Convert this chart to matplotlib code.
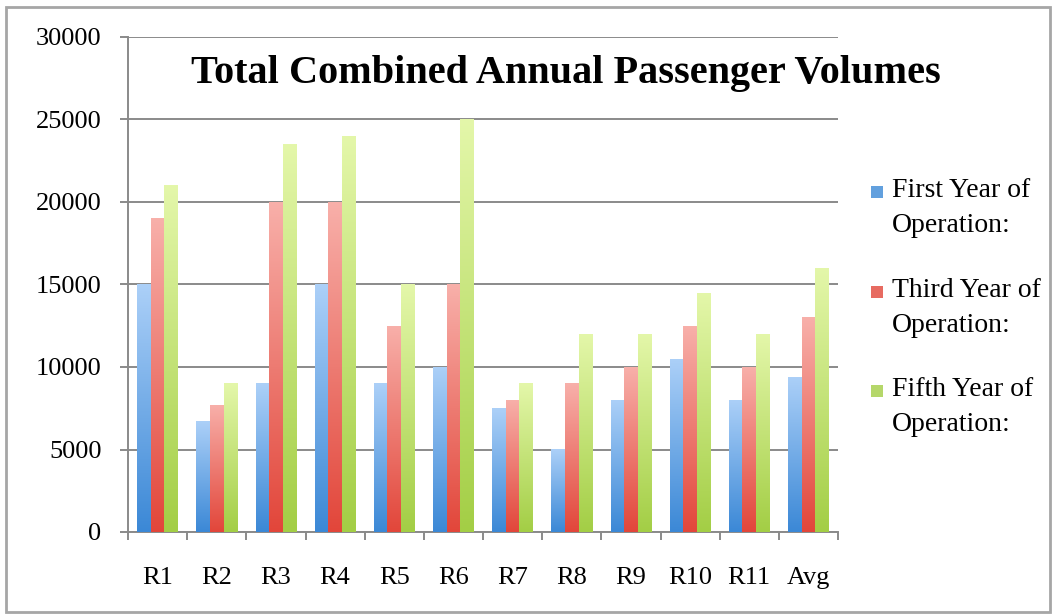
import numpy as np
import matplotlib
matplotlib.use("Agg")
import matplotlib.pyplot as plt
from matplotlib.patches import Rectangle
from matplotlib.colors import LinearSegmentedColormap

# data
routes = ["R1", "R2", "R3", "R4", "R5", "R6", "R7", "R8", "R9", "R10", "R11", "Avg"]
first_year = [15000, 6700, 9000, 15000, 9000, 10000, 7500, 5000, 8000, 10500, 8000, 9400]
third_year = [19000, 7700, 20000, 20000, 12500, 15000, 8000, 9000, 10000, 12500, 10000, 13000]
fifth_year = [21000, 9000, 23500, 24000, 15000, 25000, 9000, 12000, 12000, 14500, 12000, 16000]
series_labels = ["First Year of\nOperation:", "Third Year of\nOperation:", "Fifth Year of\nOperation:"]
title = "Total Combined Annual Passenger Volumes"

# (bottom colour, top colour) for the gradient fill
grads = [("#3b88d6", "#acd0f8"), ("#e2463a", "#f8b0aa"), ("#a3ce45", "#e4f7aa")]

plt.rcParams['font.family'] = ['Liberation Serif', 'DejaVu Serif']

fig = plt.figure(figsize=(10.52, 6.15), dpi=100)
ax = fig.add_axes([128 / 1052, 1 - 532 / 615, (838 - 128) / 1052, (532 - 37) / 615])

x = np.arange(len(routes))
w = 0.23
all_series = [first_year, third_year, fifth_year]
grad_img = np.linspace(0, 1, 256).reshape(-1, 1)

for k, vals in enumerate(all_series):
    cmap = LinearSegmentedColormap.from_list("g%d" % k, [grads[k][0], grads[k][1]])
    bars = ax.bar(x + (k - 1) * w, vals, width=w, color=grads[k][0], linewidth=0, zorder=2)
    for b in bars:
        x0 = b.get_x()
        h = b.get_height()
        im = ax.imshow(grad_img, cmap=cmap, origin="lower", aspect="auto",
                       extent=(x0, x0 + b.get_width(), 0, h), zorder=3)
        im.set_clip_path(b)

ax.set_xlim(-0.5, len(routes) - 0.5)
ax.set_ylim(0, 30000)
ax.set_yticks(np.arange(0, 30001, 5000))
ax.yaxis.grid(True, color="#8a8a8a", linewidth=1.4, zorder=0)
ax.set_axisbelow(True)

ax.set_xticks(x)
ax.set_xticklabels(routes)
ax.set_xticks(np.arange(-0.5, len(routes)), minor=True)
ax.tick_params(axis="x", which="major", length=0, pad=25, labelsize=19)
ax.tick_params(axis="x", which="minor", length=6, width=1.4, color="#8a8a8a")
ax.tick_params(axis="y", length=6, width=1.4, color="#8a8a8a", pad=13, labelsize=19)

for s in ["top", "right"]:
    ax.spines[s].set_visible(False)
for s in ["left", "bottom"]:
    ax.spines[s].set_color("#8a8a8a")
    ax.spines[s].set_linewidth(1.4)

fig.text(566 / 1052, 1 - 74 / 615, title, ha="center", va="center",
         fontsize=29, fontweight="bold")

# legend drawn by hand so the swatch sits beside the first line
leg_tops = [184, 284, 383]
for k, lab in enumerate(series_labels):
    top = leg_tops[k]
    fig.add_artist(Rectangle((871 / 1052, 1 - (top + 14) / 615), 12 / 1052, 12 / 615,
                             transform=fig.transFigure, color=grads[k][0], alpha=0.8, lw=0))
    fig.text(892 / 1052, 1 - (top - 6) / 615, lab, ha="left", va="top",
             fontsize=20, linespacing=1.55)

# outer border
fig.add_artist(Rectangle((6 / 1052, 3 / 615), 1044 / 1052, 605 / 615,
                         transform=fig.transFigure, fill=False, edgecolor="#a6a6a6", lw=2))

fig.savefig("out.png", dpi=100)
